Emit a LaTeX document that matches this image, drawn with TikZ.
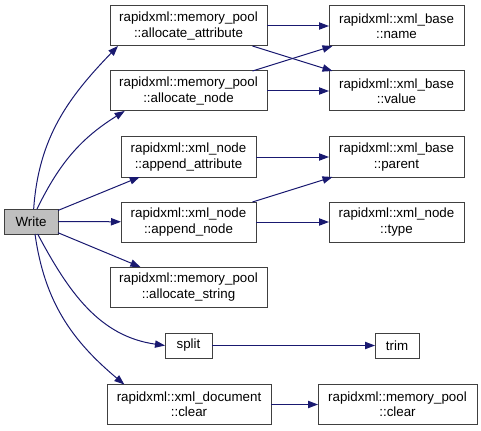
\documentclass[tikz,border=0pt]{standalone}
\usepackage{fontspec}
\setmainfont{Liberation Sans}
\usetikzlibrary{arrows.meta}
\definecolor{edgeblue}{HTML}{191970}
\definecolor{boxline}{HTML}{404040}
\definecolor{writefill}{HTML}{BFBFBF}
\tikzset{
  fn/.style={draw=boxline, line width=0.75pt, fill=white, inner sep=0pt, outer sep=0pt,
    align=center, font=\fontsize{10}{11.5}\selectfont},
  wide/.style={fn, minimum width=117.75pt, minimum height=30pt},
  mid/.style={fn, minimum width=101.25pt, minimum height=30pt},
  small/.style={fn, minimum height=18.75pt},
  link/.style={draw=edgeblue, line width=0.75pt, -{Triangle[length=7.5pt,width=5.5pt]}, fill=none}
}
\begin{document}
\begin{tikzpicture}[x=0.75pt, y=-0.75pt]
\useasboundingbox (0,0) rectangle (481,431);
% left
\node[small, fill=writefill, minimum width=40.5pt] (write) at (31,221.5) {Write};
% middle
\node[wide] (aa) at (188.5,26) {rapidxml::memory\_pool\\::allocate\_attribute};
\node[wide] (an) at (188.5,91) {rapidxml::memory\_pool\\::allocate\_node};
\node[mid] (apa) at (188.5,157) {rapidxml::xml\_node\\::append\_attribute};
\node[mid] (apn) at (188.5,222) {rapidxml::xml\_node\\::append\_node};
\node[wide] (as) at (188.5,287) {rapidxml::memory\_pool\\::allocate\_string};
\node[small, minimum width=35.25pt] (split) at (188.5,345.5) {split};
\node[fn, minimum width=123pt, minimum height=30pt] (xdc) at (189,404.5) {rapidxml::xml\_document\\::clear};
% right
\node[mid] (name) at (396.5,26) {rapidxml::xml\_base\\::name};
\node[mid] (value) at (396.5,91) {rapidxml::xml\_base\\::value};
\node[mid] (parent) at (396.5,157) {rapidxml::xml\_base\\::parent};
\node[mid] (type) at (396.5,222) {rapidxml::xml\_node\\::type};
\node[small, minimum width=33pt] (trim) at (397,345.5) {trim};
\node[fn, minimum width=119.25pt, minimum height=30pt] (mpc) at (397.5,404.5) {rapidxml::memory\_pool\\::clear};
% edges from Write
\draw[link] ([xshift=2pt]write.north) to[out=86,in=226] ([xshift=6pt]aa.south west);
\draw[link] ([xshift=4.5pt]write.north) to[out=64,in=212] ([xshift=11pt]an.south west);
\draw[link] (write) -- (apa);
\draw[link] (write) -- (apn);
\draw[link] (write) -- (as);
\draw[link] ([xshift=5pt]write.south) to[out=-62,in=172] (split.west);
\draw[link] ([xshift=3pt]write.south) to[out=-82,in=140] ([xshift=13pt]xdc.north west);
% other edges
\draw[link] (aa) -- (name);
\draw[link] (aa) -- (value);
\draw[link] (an) -- (name);
\draw[link] (an) -- (value);
\draw[link] (apa) -- (parent);
\draw[link] (apn) -- (parent);
\draw[link] (apn) -- (type);
\draw[link] (split) -- (trim);
\draw[link] (xdc) -- (mpc);
\end{tikzpicture}
\end{document}
